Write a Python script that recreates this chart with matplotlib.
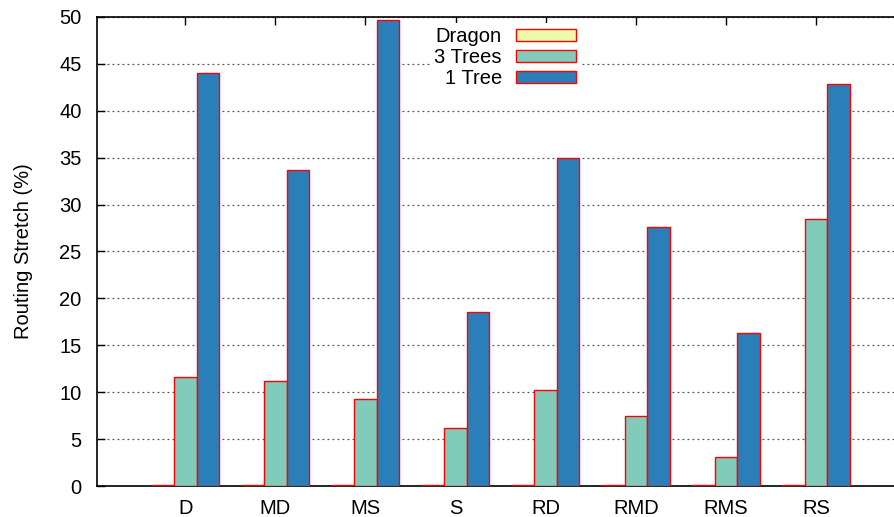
import matplotlib
matplotlib.use("Agg")
import matplotlib.pyplot as plt
import numpy as np

categories = ["D", "MD", "MS", "S", "RD", "RMD", "RMS", "RS"]
dragon = [0.1, 0.1, 0.1, 0.1, 0.1, 0.1, 0.1, 0.1]
three_trees = [11.6, 11.2, 9.3, 6.2, 10.2, 7.5, 3.1, 28.5]
one_tree = [44.0, 33.7, 49.7, 18.6, 35.0, 27.6, 16.3, 42.9]
yticks = [0, 5, 10, 15, 20, 25, 30, 35, 40, 45, 50]

plt.rcParams['font.family'] = ['Liberation Sans', 'DejaVu Sans']
FS = 14.5

fig = plt.figure(figsize=(8.94, 5.17), dpi=100)
xmin, xmax = -0.98, 8.0
ax = fig.add_axes([97/894, 1-486/517, (xmax-xmin)*90.1/894, (486-17)/517])
ax.patch.set_visible(False)

x = np.arange(len(categories))
w = 0.25
ax.bar(x - w, dragon, w, color='#eefaa8', edgecolor='#ff0000', linewidth=1.0, label='Dragon', zorder=3)
ax.bar(x, three_trees, w, color='#80cbb9', edgecolor='#ff0000', linewidth=1.0, label='3 Trees', zorder=3)
ax.bar(x + w, one_tree, w, color='#2b7fb8', edgecolor='#ff0000', linewidth=1.0, label='1 Tree', zorder=3)

ax.set_xlim(xmin, xmax)
ax.set_ylim(0, 50)
ax.set_yticks(yticks)
ax.set_xticks(x)
ax.set_xticklabels(categories)
ax.yaxis.grid(True, linestyle=(0, (1.5, 2.5)), color='#555555', linewidth=0.9, zorder=0)
ax.set_axisbelow(True)
ax.tick_params(axis='y', direction='in', length=6, width=1, labelsize=FS, pad=11,
               left=True, right=False)
ax.tick_params(axis='x', direction='in', length=6, width=1, labelsize=FS, pad=9,
               bottom=False, top=True)
for s in ax.spines.values():
    s.set_linewidth(1.2)
ax.spines['right'].set_visible(False)
ax.set_ylabel("Routing Stretch (%)", fontsize=FS, labelpad=19)

leg = ax.legend(loc='upper right', bbox_to_anchor=(580/894, 1-23/517),
                bbox_transform=fig.transFigure, frameon=True, fancybox=False,
                markerfirst=False, fontsize=FS, handlelength=3.0, handleheight=0.5,
                handletextpad=0.68, labelspacing=0.1, borderpad=0.2, borderaxespad=0)
leg.get_frame().set_edgecolor('none')
leg.get_frame().set_facecolor('white')
leg.get_frame().set_alpha(1)

fig.savefig("out.png", dpi=100)
